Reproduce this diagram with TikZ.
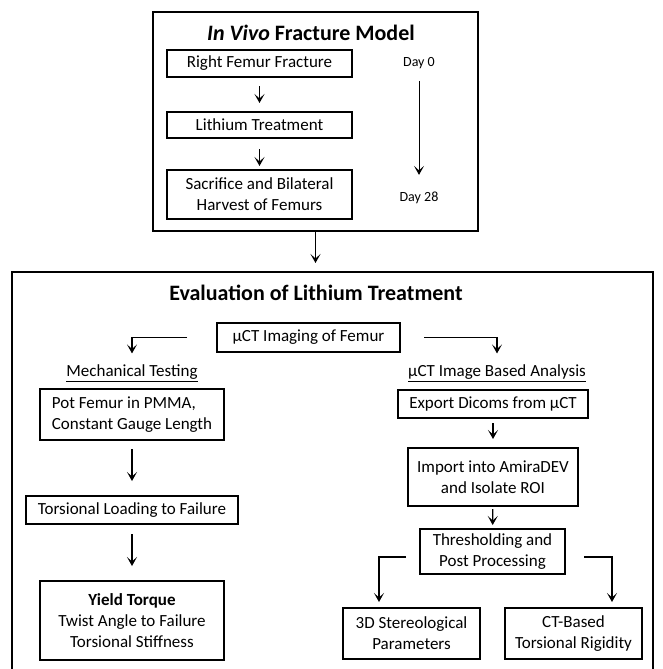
\documentclass[tikz,border=0pt]{standalone}
\usepackage{fontspec}
\setmainfont{Carlito}
\usetikzlibrary{arrows.meta}
\begin{document}
\begin{tikzpicture}[x=1pt,y=-1pt,
 box/.style={draw, line width=2pt, inner sep=0pt, align=center, font=\fontsize{17}{21}\selectfont},
 lbl/.style={inner sep=0pt, align=center, font=\fontsize{17}{21}\selectfont},
 daylbl/.style={inner sep=0pt, font=\fontsize{14}{17}\selectfont},
 ttl/.style={inner sep=0pt, font=\bfseries\fontsize{22}{26}\selectfont},
 arr/.style={line width=1.3pt, -{Stealth[length=9pt,width=10pt,inset=4.5pt]}},
 frame/.style={line width=2pt},
]
\useasboundingbox (0,0) rectangle (662,669);
% top block
\node[box, minimum width=325pt, minimum height=219pt] (top) at (315.5,121.5) {};
\node[ttl] (ttop) at (311,33) {\textit{In Vivo} Fracture Model};
\node[box, minimum width=185pt, minimum height=27pt] (rff) at (259.5,63.5) {Right Femur Fracture};
\node[box, minimum width=185pt, minimum height=26pt] (lit) at (259.5,125) {Lithium Treatment};
\node[box, minimum width=185pt, minimum height=49pt] (sac) at (259.5,194.5) {Sacrifice and Bilateral\\Harvest of Femurs};
\node[daylbl] (d0) at (419,63) {Day 0};
\node[daylbl] (d28) at (419,198) {Day 28};
\draw[arr, shorten <=8pt, shorten >=8pt] (rff) -- (lit);
\draw[arr, shorten <=10pt, shorten >=3pt] (lit) -- (sac);
\draw[arr, line width=1pt, shorten <=12pt, shorten >=17pt] (d0) -- (d28);
% bottom block
\coordinate (evtop) at (315.5,272);
\draw[frame] (12,672) -- (12,272) -- (653,272) -- (653,672);
\draw[arr, shorten >=9pt] (top.south) -- (evtop);
\node[ttl] (tev) at (316,293) {Evaluation of Lithium Treatment};
\node[box, minimum width=183pt, minimum height=29pt] (mct) at (308.5,337.5) {µCT Imaging of Femur};
\node[lbl] (mech) at (132,373) {\underline{Mechanical Testing}};
\node[lbl] (ana) at (497,373) {\underline{µCT Image Based Analysis}};
\draw[arr, shorten >=11pt] ([xshift=-29pt]mct.west) -| (mech.north);
\draw[arr, shorten >=11pt] ([xshift=23pt]mct.east) -| (ana.north);
% left column
\node[box, minimum width=184pt, minimum height=51pt, align=left] (pot) at (132,414.5) {Pot Femur in PMMA,\\Constant Gauge Length};
\node[box, minimum width=212pt, minimum height=28pt] (tor) at (132,510) {Torsional Loading to Failure};
\node[box, minimum width=184pt, minimum height=79pt] (yld) at (132,620.5) {\textbf{Yield Torque}\\Twist Angle to Failure\\Torsional Stiffness};
\draw[arr, shorten <=8pt, shorten >=14pt] (pot) -- (tor);
\draw[arr, shorten <=9pt, shorten >=14pt] (tor) -- (yld);
% right column
\node[box, minimum width=190pt, minimum height=28pt] (exp) at (493,404) {Export Dicoms from µCT};
\node[box, minimum width=170pt, minimum height=58pt] (imp) at (493,477) {Import into AmiraDEV\\and Isolate ROI};
\node[box, minimum width=145pt, minimum height=45pt] (thr) at (492.5,551.5) {Thresholding and\\Post Processing};
\node[box, minimum width=137pt, minimum height=51pt] (ster) at (411.5,633.5) {3D Stereological\\Parameters};
\node[box, minimum width=137pt, minimum height=51pt] (ctb) at (573.5,633.5) {CT-Based\\Torsional Rigidity};
\draw[arr, shorten <=4pt, shorten >=8pt] (exp) -- (imp);
\draw[arr, shorten <=2pt, shorten >=3pt] (imp) -- (thr);
\draw[arr, shorten >=5pt] ([shift={(-13,5.5)}]thr.west) -| ([xshift=-32.5pt]ster.north);
\draw[arr, shorten >=5pt] ([shift={(18,5.5)}]thr.east) -| ([xshift=38.5pt]ctb.north);
\end{tikzpicture}
\end{document}
